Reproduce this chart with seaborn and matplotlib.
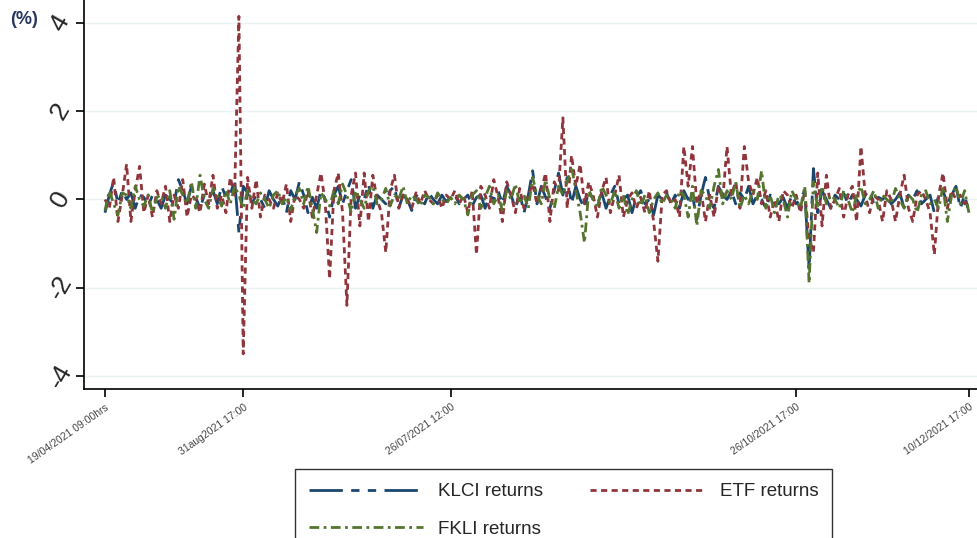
"""
Intraday returns of KLCI, ETF and FKLI (Stata-style line chart).
"""
import matplotlib
matplotlib.use("Agg")
import matplotlib.pyplot as plt
import matplotlib.transforms as mtransforms
import seaborn as sns
import pandas as pd
import numpy as np

tick_pos = [0, 32, 80, 160, 200]
tick_labels = ["19/04/2021 09:00hrs", "31aug2021 17:00", "26/07/2021 12:00",
               "26/10/2021 17:00", "10/12/2021 17:00"]

klci = [
    -0.3, 0.1, 0.4, -0.1, 0.2, 0.0, 0.15, -0.2, 0.1, 0.05,
    -0.15, 0.1, 0.0, -0.2, 0.1, 0.0, -0.1, 0.45, 0.2, -0.1,
    0.3, 0.05, -0.2, 0.1, 0.0, 0.2, -0.1, 0.3, 0.05, 0.1,
    0.45, -0.75, 0.3, 0.15, -0.1, 0.1, 0.0, -0.2, 0.2, 0.0,
    -0.15, 0.1, -0.3, 0.2, 0.0, 0.4, 0.1, -0.3, 0.05, -0.2,
    0.2, 0.0, -0.4, 0.1, 0.3, -0.1, 0.2, 0.45, -0.2, 0.1,
    0.0, 0.35, -0.2, 0.1, 0.0, -0.1, 0.2, 0.3, -0.2, 0.1,
    0.0, -0.25, 0.1, 0.0, -0.1, 0.15, 0.0, -0.1, 0.1, -0.05,
    0.05, 0.1, -0.1, 0.0, 0.1, -0.15, 0.05, 0.1, -0.2, 0.1,
    0.0, 0.2, -0.1, 0.3, 0.1, -0.2, 0.15, -0.3, 0.1, 0.65,
    -0.1, 0.3, 0.05, -0.2, 0.2, 0.6, 0.1, 0.5, -0.1, 0.3,
    0.0, -0.2, 0.2, 0.0, -0.1, 0.15, -0.2, 0.1, 0.3, -0.1,
    0.0, 0.1, -0.3, 0.05, 0.2, -0.1, 0.0, -0.35, 0.1, 0.0,
    0.15, -0.1, 0.1, -0.2, 0.2, 0.0, 0.1, -0.45, 0.1, 0.5,
    0.0, -0.2, 0.3, 0.1, 0.0, 0.2, -0.1, 0.15, 0.0, 0.3,
    -0.1, 0.1, 0.0, -0.2, 0.1, 0.0, -0.1, 0.05, -0.2, 0.1,
    -0.1, 0.0, 0.2, -1.6, 0.7, -0.3, 0.2, 0.0, -0.2, 0.1,
    0.0, 0.15, -0.1, 0.1, 0.0, -0.15, 0.1, 0.2, -0.1, 0.05,
    0.0, 0.1, -0.1, 0.0, 0.15, -0.2, 0.1, 0.0, 0.2, -0.1,
    0.0, 0.1, -0.3, 0.1, 0.2, -0.1, 0.1, 0.3, -0.2, 0.1,
    -0.3,
]

etf = [
    0.0, -0.2, 0.5, -0.5, 0.1, 0.8, -0.5, 0.2, 0.75, -0.3,
    0.1, -0.4, 0.2, -0.1, 0.3, -0.5, 0.1, -0.2, 0.45, -0.4,
    0.1, 0.0, -0.3, 0.35, -0.1, 0.55, -0.2, 0.1, -0.3, 0.5,
    0.1, 4.15, -3.5, 0.5, -0.2, 0.45, -0.4, 0.1, 0.0, -0.2,
    0.15, -0.1, 0.35, -0.5, 0.1, 0.0, -0.2, 0.2, -0.4, 0.1,
    0.6, -0.1, -1.8, 0.2, 0.6, -0.3, -2.4, 0.1, 0.6, -0.6,
    0.6, -0.5, 0.55, 0.0, -0.3, -1.2, 0.2, 0.55, -0.2, 0.1,
    0.0, -0.2, 0.15, -0.1, 0.2, 0.0, -0.1, 0.1, -0.2, 0.1,
    0.0, 0.2, -0.1, 0.1, -0.3, 0.2, -1.25, 0.3, 0.1, -0.2,
    0.45, 0.05, -0.5, 0.4, 0.1, -0.3, 0.25, -0.2, 0.1, 0.35,
    -0.1, 0.2, 0.6, -0.5, 0.4, 0.2, 1.85, -0.2, 1.0, 0.3,
    0.8, -0.1, 0.4, 0.1, -0.4, 0.2, 0.5, -0.3, 0.1, 0.55,
    -0.4, 0.0, 0.15, -0.2, 0.05, -0.3, 0.2, -0.5, -1.4, 0.1,
    0.2, -0.1, 0.0, -0.4, 1.2, 0.3, 1.2, -0.1, 0.2, -0.5,
    0.1, -0.4, 0.3, 0.0, 1.2, 0.1, 0.4, -0.2, 1.2, 0.4,
    0.1, 0.5, -0.1, 0.2, -0.4, 0.0, -0.5, 0.2, 0.1, -0.2,
    0.1, -0.3, 0.2, -0.9, -1.2, 0.6, -0.6, 0.55, -0.2, 0.0,
    0.25, -0.4, 0.1, 0.3, -0.5, 1.2, 0.1, -0.3, 0.1, 0.0,
    -0.5, 0.2, 0.0, -0.5, 0.1, 0.55, -0.2, -0.5, 0.1, 0.2,
    0.0, -0.3, -1.25, 0.1, 0.6, -0.2, 0.2, 0.0, 0.1, -0.1,
    0.0,
]

fkli = [
    -0.25, 0.2, -0.1, -0.35, 0.15, 0.1, -0.2, 0.3, 0.0, -0.15,
    0.1, -0.3, 0.05, 0.1, -0.2, 0.2, -0.45, 0.3, 0.1, -0.1,
    0.4, -0.2, 0.55, 0.0, -0.2, 0.25, 0.1, -0.15, 0.2, -0.1,
    0.3, 0.1, -0.2, 0.2, 0.0, -0.1, 0.15, 0.0, -0.2, 0.1,
    0.2, -0.1, 0.05, -0.25, 0.1, 0.25, -0.1, 0.3, -0.2, -0.75,
    0.15, 0.0, -0.15, 0.2, -0.1, 0.35, 0.1, -0.3, 0.2, 0.0,
    -0.2, 0.2, 0.3, -0.1, 0.0, 0.25, -0.15, 0.1, 0.0, 0.3,
    -0.1, 0.1, 0.0, -0.15, 0.1, 0.05, -0.1, 0.15, 0.0, -0.1,
    0.05, -0.1, 0.1, 0.0, -0.35, 0.1, 0.2, -0.2, 0.05, 0.3,
    -0.1, 0.1, -0.25, 0.2, 0.0, 0.35, -0.1, 0.1, -0.2, 0.5,
    0.1, -0.1, 0.45, 0.0, -0.2, 0.3, 0.1, 0.4, 0.75, 0.2,
    -0.3, -0.98, 0.2, 0.0, -0.2, 0.3, 0.1, -0.1, 0.2, -0.2,
    0.1, -0.35, 0.0, 0.2, -0.15, 0.1, -0.3, 0.0, 0.15, -0.1,
    0.1, 0.0, -0.2, 0.2, 0.1, -0.4, 0.3, -0.6, 0.2, 0.1,
    -0.2, 0.3, 0.68, -0.1, 0.2, 0.0, 0.4, -0.2, 0.1, -0.1,
    0.2, 0.0, 0.65, -0.2, 0.1, -0.3, 0.1, 0.0, -0.4, 0.2,
    0.0, -0.2, 0.3, -1.9, 0.4, -0.2, 0.3, -0.1, 0.1, 0.0,
    -0.2, 0.2, 0.0, -0.3, 0.1, 0.3, -0.1, 0.0, 0.2, -0.2,
    0.1, 0.0, -0.1, 0.25, 0.0, -0.2, 0.1, 0.0, -0.3, 0.1,
    0.2, -0.1, 0.0, -0.2, 0.3, -0.5, 0.1, 0.3, -0.1, 0.2,
    -0.3,
]

obs = np.arange(len(etf))
df = pd.DataFrame({"obs": obs, "KLCI returns": klci,
                   "ETF returns": etf, "FKLI returns": fkli})

sns.set_style("white")
plt.rcParams["font.family"] = ["Liberation Sans", "DejaVu Sans"]

fig = plt.figure(figsize=(9.78, 5.38), dpi=100)
ax = fig.add_axes([84 / 978, 1 - 389 / 538, 1 - 84 / 978, 389 / 538])

# Stata s2color palette
styles = {
    "KLCI returns": ("#1a476f", (0, (12, 3, 3, 3, 3, 3))),
    "ETF returns": ("#90353b", (0, (2.2, 1.6))),
    "FKLI returns": ("#55752f", (0, (3.5, 1.6, 1, 1.6))),
}
for name in ["KLCI returns", "ETF returns", "FKLI returns"]:
    col, dash = styles[name]
    sns.lineplot(data=df, x="obs", y=name, ax=ax, color=col, linestyle=dash,
                 linewidth=2.0, label=name, legend=False)

ax.set_xlim(-4.86, 202.1)
ax.set_ylim(-4.295, 4.52)
ax.set_yticks([-4, -2, 0, 2, 4])
ax.set_yticklabels(["-4", "-2", "0", "2", "4"], rotation=60, fontsize=19,
                   ha="center", va="center", rotation_mode="anchor")
# Stata puts the rotated labels a touch below their ticks
shift = mtransforms.ScaledTranslation(0, -4 / 72, fig.dpi_scale_trans)
for lab in ax.get_yticklabels():
    lab.set_transform(lab.get_transform() + shift)
ax.set_xticks(tick_pos)
ax.set_xticklabels(tick_labels, rotation=35, ha="right", rotation_mode="anchor",
                   fontsize=7.5, color="#444444")
ax.set_xlabel("")
ax.set_ylabel("")
ax.grid(axis="y", color="#eaf2f3", linewidth=1)
ax.grid(axis="x", visible=False)
ax.tick_params(axis="both", direction="out", length=6, width=1.2, color="black",
               bottom=True, left=True)
ax.tick_params(axis="y", pad=11)
for side in ["top", "right"]:
    ax.spines[side].set_visible(False)
for side in ["left", "bottom"]:
    ax.spines[side].set_color("black")
    ax.spines[side].set_linewidth(1.2)

fig.text(10 / 978, 1 - 20 / 538, "(%)", fontsize=13, color="#27375e",
         fontweight="bold", va="center", ha="left")

handles, labels = ax.get_legend_handles_labels()
order = [0, 2, 1]  # fills column-wise: KLCI, ETF on row 1, FKLI on row 2
leg = fig.legend([handles[i] for i in order], [labels[i] for i in order],
                 loc="upper left", bbox_to_anchor=(295 / 978, 1 - 469 / 538),
                 borderaxespad=0, ncol=2, frameon=True, fancybox=False,
                 handlelength=6.1, handletextpad=0.8, fontsize=13.5,
                 borderpad=0.75, labelspacing=1.1, columnspacing=2.5)
leg.get_frame().set_edgecolor("black")
leg.get_frame().set_linewidth(1.0)

fig.savefig("out.png", dpi=100)
